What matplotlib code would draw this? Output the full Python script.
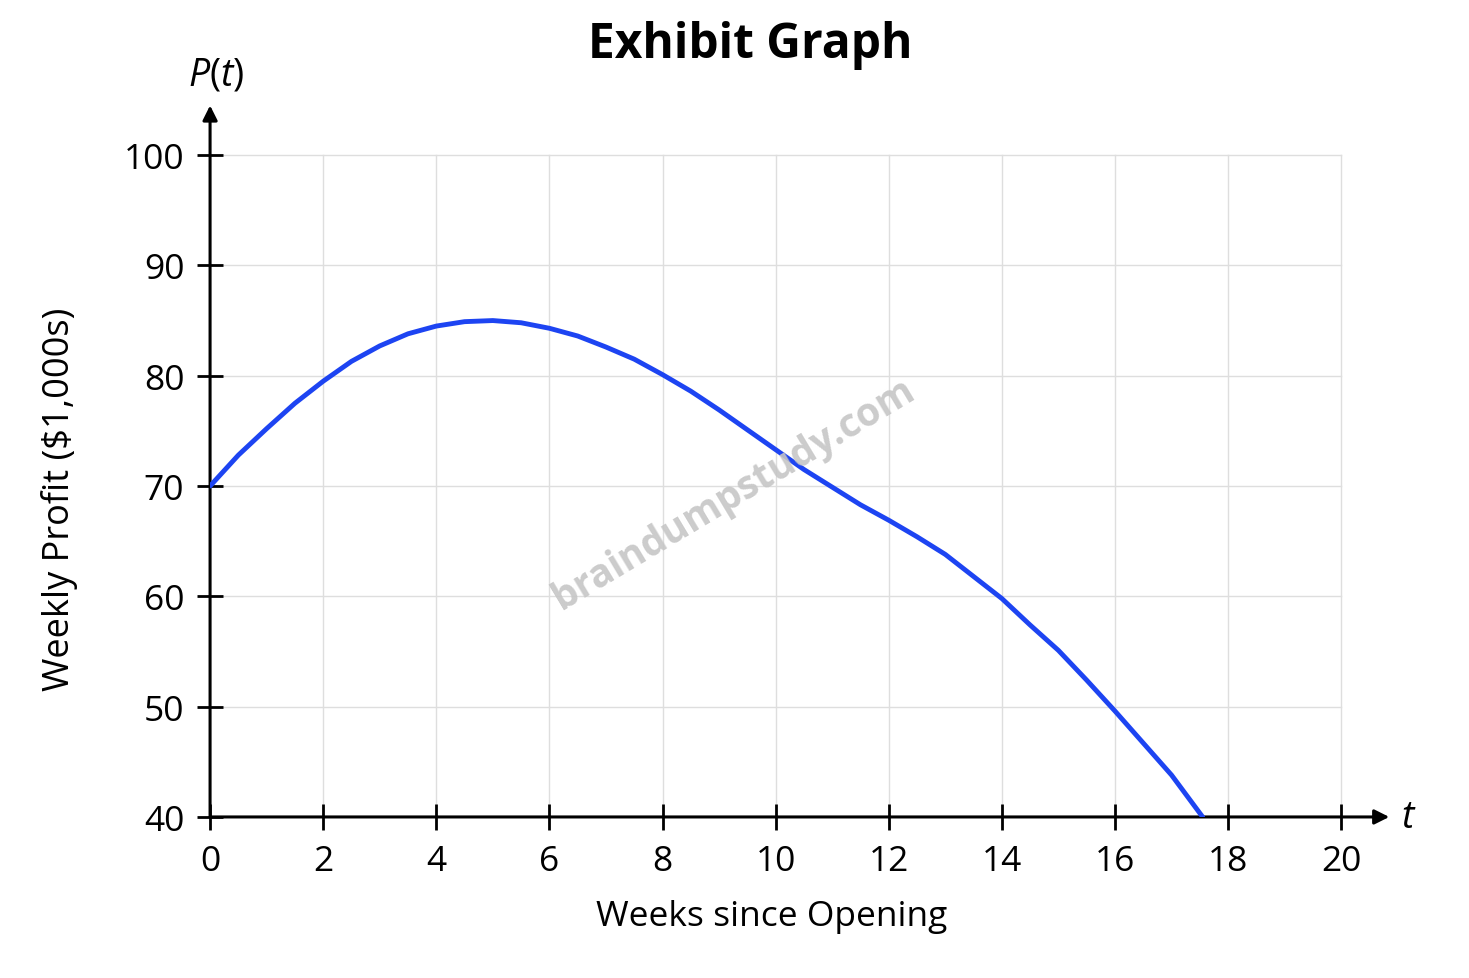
import numpy as np
import matplotlib
matplotlib.use("Agg")
import matplotlib.pyplot as plt

plt.rcParams['font.family'] = ['Open Sans', 'DejaVu Sans']
plt.rcParams['mathtext.fontset'] = 'custom'
plt.rcParams['mathtext.it'] = 'Open Sans:italic'
plt.rcParams['mathtext.rm'] = 'Open Sans'

# weekly profit (thousands of $)
weeks = [0, 0.5, 1, 1.5, 2, 2.5, 3, 3.5, 4, 4.5, 5, 5.5, 6, 6.5, 7, 7.5, 8, 8.5,
         9, 9.5, 10, 10.5, 11, 11.5, 12, 12.5, 13, 13.5, 14, 14.5, 15, 15.5,
         16, 16.5, 17, 17.55]
profit = [70.0, 72.8, 75.2, 77.5, 79.5, 81.3, 82.7, 83.8, 84.5, 84.9, 85.0, 84.8,
          84.3, 83.6, 82.6, 81.5, 80.1, 78.6, 76.9, 75.1, 73.3, 71.5, 69.9, 68.3,
          66.9, 65.4, 63.8, 61.8, 59.8, 57.4, 55.1, 52.4, 49.6, 46.7, 43.8, 40.0]
x_ticks = [0, 2, 4, 6, 8, 10, 12, 14, 16, 18, 20]
y_ticks = [40, 50, 60, 70, 80, 90, 100]

fig = plt.figure(figsize=(14.69, 9.79), dpi=100)
ax = fig.add_axes([0.1430, 0.1645, 0.8085, 0.7324])
ax.set_xlim(0, 21)
ax.set_ylim(40, 105)

# grid only inside the 0..20 x 40..100 box
for xv in x_ticks[1:]:
    ax.plot([xv, xv], [40, 100], color='#dedede', lw=1.0, zorder=0)
for yv in y_ticks[1:]:
    ax.plot([0, 20], [yv, yv], color='#dedede', lw=1.0, zorder=0)

for s in ax.spines.values():
    s.set_visible(False)

# axes with arrow heads
ax.annotate('', xy=(20.85, 40), xytext=(0, 40),
            arrowprops=dict(arrowstyle='-|>', lw=2.2, color='black', mutation_scale=22,
                            shrinkA=0, shrinkB=0), annotation_clip=False)
ax.annotate('', xy=(0, 104.5), xytext=(0, 40),
            arrowprops=dict(arrowstyle='-|>', lw=2.2, color='black', mutation_scale=22,
                            shrinkA=0, shrinkB=0), annotation_clip=False)

ax.plot(weeks, profit, color='#1d44f2', lw=3.5, solid_capstyle='round', zorder=3)

ax.set_xticks(x_ticks)
ax.set_yticks(y_ticks)
ax.tick_params(direction='inout', length=19, width=2.0, labelsize=25.5)
ax.tick_params(axis='x', pad=10)
ax.tick_params(axis='y', pad=9)

fig.text(0.5255, 0.0633, 'Weeks since Opening', fontsize=25.5, ha='center', va='center')
fig.text(0.0408, 0.4903, 'Weekly Profit ($1,000s)', fontsize=26, rotation=90,
         ha='center', va='center')

ax.text(0.1, 107.3, r'$P(t)$', fontsize=27, ha='center', va='center')
ax.text(21.2, 40, r'$t$', fontsize=27, ha='center', va='center')

fig.text(0.511, 0.954, 'Exhibit Graph', fontsize=34.5, fontweight='bold', ha='center', va='center')

# watermark
ax.text(9.25, 69.3, 'braindumpstudy.com', fontsize=28, fontweight='bold', color='#c6c6c6',
        rotation=31, ha='center', va='center', zorder=4, alpha=0.9)

fig.savefig('out.png', dpi=100)
